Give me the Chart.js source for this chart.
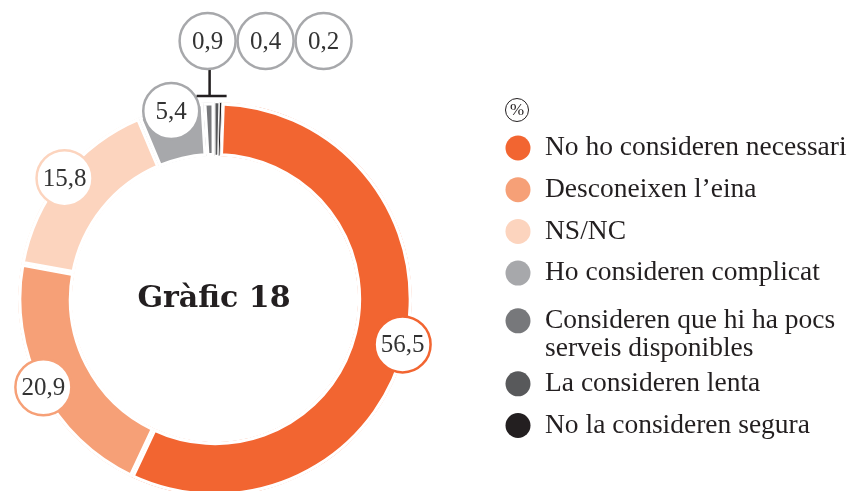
<!DOCTYPE html>
<html>
<head>
<meta charset="utf-8">
<script src="https://cdn.jsdelivr.net/npm/chart.js@4.4.1/dist/chart.umd.min.js"></script>
<style>
  html, body { margin: 0; padding: 0; background: #fff; overflow: hidden; }
  #wrap { position: relative; width: 850px; height: 500px; }
</style>
</head>
<body>
<div id="wrap"><canvas id="donut-chart"></canvas></div>
<script>
const labels_donut = [
  "No ho consideren necessari",
  "Desconeixen l’eina",
  "NS/NC",
  "Ho consideren complicat",
  ["Consideren que hi ha pocs", "serveis disponibles"],
  "La consideren lenta",
  "No la consideren segura"
];
const values_donut = [56.5, 20.9, 15.8, 5.4, 0.9, 0.4, 0.2];
const value_text = ["56,5", "20,9", "15,8", "5,4", "0,9", "0,4", "0,2"];
const colors_donut = ["#f26531", "#f6a077", "#fcd4be", "#a7a8ab", "#77787b", "#58595b", "#231f20"];
const chart_title = "Gràfic 18";
const unit_label = "%";

const SERIF = "'Liberation Serif', serif";
const TEXT = "#231f20";

// white gaps between slices, thinner for the tiny ones so they stay visible
const gap_widths = [3, 3, 3, 3, 3, 1, 0.5];

function bubble(ctx, x, y, stroke, txt) {
  ctx.beginPath();
  ctx.arc(x, y, 28, 0, Math.PI * 2);
  ctx.fillStyle = "#fff";
  ctx.fill();
  ctx.lineWidth = 2.5;
  ctx.strokeStyle = stroke;
  ctx.stroke();
  ctx.fillStyle = "#333";
  ctx.fillText(txt, x, y + 1);
}

const decorations = {
  id: "decorations",
  afterDatasetsDraw(chart) {
    const ctx = chart.ctx;
    const arcs = chart.getDatasetMeta(0).data;
    const cx = arcs[0].x, cy = arcs[0].y;
    ctx.save();

    // title in the hole
    ctx.font = "bold 30px 'DejaVu Serif', serif";
    ctx.fillStyle = TEXT;
    ctx.textAlign = "center";
    ctx.textBaseline = "alphabetic";
    ctx.fillText(chart_title, cx - 1, cy + 8);

    // value bubbles on the big slices
    ctx.font = "25px " + SERIF;
    ctx.textBaseline = "middle";
    const small = [];
    arcs.forEach((arc, i) => {
      if (values_donut[i] < 1) { small.push(i); return; }
      const mid = (arc.startAngle + arc.endAngle) / 2;
      const r = arc.outerRadius - 4;
      bubble(ctx, cx + Math.cos(mid) * r, cy + Math.sin(mid) * r, colors_donut[i], value_text[i]);
    });

    // tiny slices: bracket + row of bubbles above
    if (small.length) {
      const a0 = arcs[small[0]], a1 = arcs[small[small.length - 1]];
      const mid = (a0.startAngle + a1.endAngle) / 2;
      const tx = cx + Math.cos(mid) * a0.outerRadius;
      const ty = cy + Math.sin(mid) * a0.outerRadius;
      const barY = ty - 6;
      const bubY = ty - 61;
      ctx.strokeStyle = "#231f20";
      ctx.lineWidth = 2.5;
      ctx.beginPath();
      ctx.moveTo(tx - 16, barY); ctx.lineTo(tx + 14, barY);
      ctx.moveTo(tx - 3, barY); ctx.lineTo(tx - 3, bubY + 28);
      ctx.stroke();
      small.forEach((i, k) => {
        bubble(ctx, tx - 5 + k * 58, bubY, "#a7a8ab", value_text[i]);
      });
    }

    // legend
    const lx = 518, tx2 = 545;
    ctx.lineWidth = 1;
    ctx.strokeStyle = TEXT;
    ctx.beginPath();
    ctx.arc(lx - 1, 110, 11.5, 0, Math.PI * 2);
    ctx.stroke();
    ctx.font = "17px " + SERIF;
    ctx.fillStyle = TEXT;
    ctx.textAlign = "center";
    ctx.fillText(unit_label, lx - 1, 111);

    ctx.font = "27.5px " + SERIF;
    ctx.textAlign = "left";
    let y = 148;
    labels_donut.forEach((lab, i) => {
      const lines = Array.isArray(lab) ? lab : [lab];
      if (lines.length > 1) y += 6;
      ctx.beginPath();
      ctx.arc(lx, y, 12.5, 0, Math.PI * 2);
      ctx.fillStyle = colors_donut[i];
      ctx.fill();
      ctx.fillStyle = TEXT;
      lines.forEach((t, j) => ctx.fillText(t, tx2, y + j * 28));
      y += (lines.length - 1) * 28 + (lines.length > 1 ? 35 : 41.7);
    });
    ctx.restore();
  }
};

const data_donut = {
  labels: labels_donut,
  datasets: [{
    data: values_donut,
    backgroundColor: colors_donut,
    borderColor: "#ffffff",
    borderWidth: gap_widths,
    borderAlign: "inner",
    hoverOffset: 0
  }]
};

const config_donut = {
  type: "doughnut",
  data: data_donut,
  options: {
    responsive: false,
    animation: false,
    rotation: 2,
    cutout: "72.5%",
    layout: { padding: { left: 18, top: 102, right: 438, bottom: 4 } },
    plugins: {
      legend: { display: false },
      tooltip: { enabled: false }
    }
  },
  plugins: [decorations]
};

const cv = document.getElementById("donut-chart");
cv.width = 850;
cv.height = 500;
const myChart_donut = new Chart(cv.getContext("2d"), config_donut);
</script>
</body>
</html>
